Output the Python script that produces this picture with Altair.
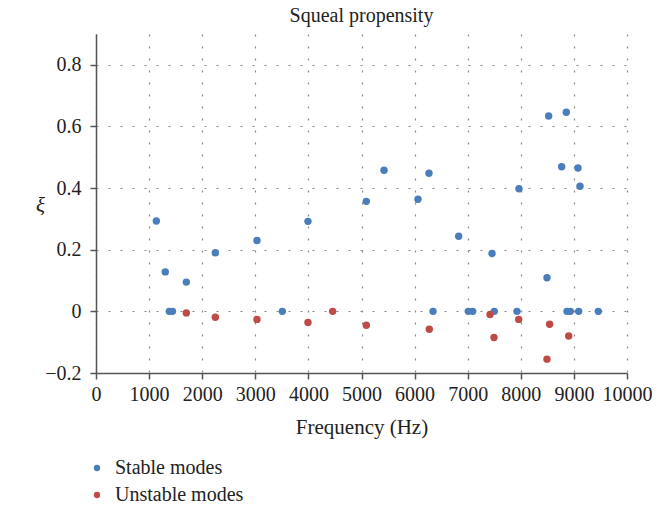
import altair as alt
import pandas as pd

stable_freq = [1136, 1305, 1380, 1440, 1701, 2247, 3032, 3509, 3992, 5091, 5424, 6064,
               6271, 6347, 6830, 7011, 7094, 7458, 7501, 7928, 7966, 8493, 8525, 8770,
               8857, 8870, 8932, 9077, 9090, 9115, 9460]
stable_xi = [0.293, 0.128, 0.0, 0.0, 0.095, 0.19, 0.23, 0.0, 0.292, 0.357, 0.458, 0.364,
             0.448, 0.0, 0.244, 0.0, 0.0, 0.188, 0.0, 0.0, 0.398, 0.109, 0.634, 0.469,
             0.646, 0.0, 0.0, 0.465, 0.0, 0.406, 0.0]
unstable_freq = [1701, 2247, 3032, 3992, 4457, 5091, 6277, 7420, 7495, 7960, 8493, 8543, 8902]
unstable_xi = [-0.005, -0.019, -0.026, -0.036, 0.0, -0.045, -0.058, -0.010, -0.085, -0.026,
               -0.155, -0.042, -0.080]
series_names = ["Stable modes", "Unstable modes"]
colors = ["#4a7ebb", "#be4b48"]

df = pd.DataFrame({
    "freq": stable_freq + unstable_freq,
    "xi": stable_xi + unstable_xi,
    "series": [series_names[0]] * len(stable_freq) + [series_names[1]] * len(unstable_freq),
})

FONT = "Liberation Serif"

chart = alt.Chart(df).mark_circle(size=55, opacity=1).encode(
    x=alt.X("freq:Q", scale=alt.Scale(domain=[0, 10000], nice=False),
            axis=alt.Axis(title="Frequency (Hz)", values=list(range(0, 10001, 1000)),
                          format="d", titlePadding=12, labelPadding=5)),
    y=alt.Y("xi:Q", scale=alt.Scale(domain=[-0.2, 0.9], nice=False),
            axis=alt.Axis(title="ξ", values=[-0.2, 0, 0.2, 0.4, 0.6, 0.8], format=".1~f",
                          titleAngle=0, titleX=-56, titleY=171, titleAlign="center",
                          titleBaseline="middle", titleFontStyle="italic", labelPadding=9)),
    color=alt.Color("series:N", scale=alt.Scale(domain=series_names, range=colors),
                    legend=alt.Legend(title=None, orient="none", legendX=-9, legendY=424,
                                      symbolType="circle", symbolSize=40,
                                      labelFontSize=20, labelFont=FONT, rowPadding=7,
                                      labelOffset=8, labelColor="#222")),
).properties(
    width=531, height=339,
    title=alt.TitleParams("Squeal propensity", font=FONT, fontSize=20, fontWeight="normal",
                          color="#222", offset=8),
    autosize=alt.AutoSizeParams(type="none"),
    padding={"left": 96, "top": 34, "right": 40, "bottom": 137},
).configure_view(stroke=None).configure_axis(
    labelFont=FONT, titleFont=FONT, labelFontSize=20, titleFontSize=21,
    titleFontWeight="normal", labelColor="#222", titleColor="#222",
    domainColor="#555", domainWidth=1.5, tickColor="#555", tickWidth=1.5, tickSize=6,
    grid=True, gridColor="#888", gridDash=[2, 10], gridWidth=1.2,
).configure_axisX(labelFlush=False)

chart.save("out.html", embed_options={"renderer": "svg", "actions": False})
